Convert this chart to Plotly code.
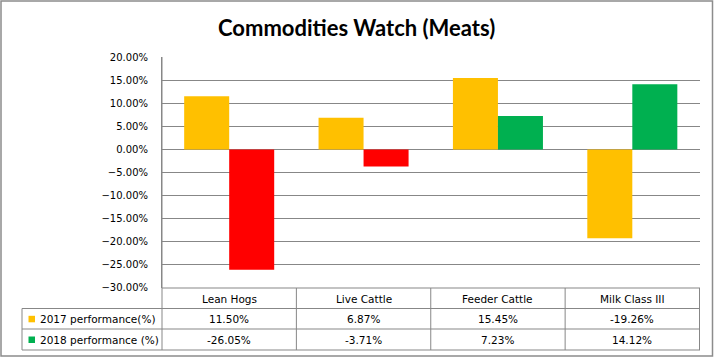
import plotly.graph_objects as go

categories = ["Lean Hogs", "Live Cattle", "Feeder Cattle", "Milk Class III"]
series_names = ["2017 performance(%)", "2018 performance (%)"]
perf_2017 = [11.50, 6.87, 15.45, -19.26]
perf_2018 = [-26.05, -3.71, 7.23, 14.12]

C_2017 = "#FFC000"
C_POS = "#00B050"
C_NEG = "#FF0000"
GRID = "#878787"

W, H = 714, 358
L, R, T, B = 162, 700, 57, 288  # plot area in pixels
PW, PH = R - L, B - T


def py(p):  # pixel y -> paper y
    return (B - p) / PH


def px(p):  # pixel x -> paper x
    return (p - L) / PW


y17 = [v / 100 for v in perf_2017]
y18 = [v / 100 for v in perf_2018]
col18 = [C_POS if v >= 0 else C_NEG for v in perf_2018]

fig = go.Figure()
fig.add_trace(go.Bar(x=categories, y=y17, name=series_names[0],
                     marker=dict(color=C_2017, line=dict(width=0))))
fig.add_trace(go.Bar(x=categories, y=y18, name=series_names[1],
                     marker=dict(color=col18, line=dict(width=0))))

shapes = []
line = dict(color=GRID, width=1)
# outer border
shapes.append(dict(type="rect", xref="paper", yref="paper",
                   x0=px(1), x1=px(712.5), y0=py(1), y1=py(356),
                   line=dict(color="#8C8C8C", width=1.5)))
# left axis extended down through the table
shapes.append(dict(type="line", xref="paper", yref="paper",
                   x0=0, x1=0, y0=py(350), y1=1, line=line))
# table vertical lines between/after categories
n = len(categories)
for i in range(n):
    shapes.append(dict(type="line", xref="x", yref="paper",
                       x0=i + 0.5, x1=i + 0.5, y0=py(350), y1=py(288), line=line))
# table horizontal lines
shapes.append(dict(type="line", xref="paper", yref="paper",
                   x0=0, x1=1, y0=py(288), y1=py(288), line=line))
for yy in (308.5, 329, 350):
    shapes.append(dict(type="line", xref="paper", yref="paper",
                       x0=px(22), x1=1, y0=py(yy), y1=py(yy), line=line))
shapes.append(dict(type="line", xref="paper", yref="paper",
                   x0=px(22), x1=px(22), y0=py(350), y1=py(308.5), line=line))

# legend keys in table
row_centers = [318.8, 339.5]
key_colors = [C_2017, C_POS]
for rc, kc in zip(row_centers, key_colors):
    shapes.append(dict(type="rect", xref="paper", yref="paper",
                       x0=px(28.5), x1=px(35), y0=py(rc + 3.5), y1=py(rc - 3),
                       fillcolor=kc, line=dict(width=0)))

ann = []
TF = dict(family="DejaVu Sans", size=10.5, color="#000000")
for c in categories:
    ann.append(dict(x=c, y=py(298.8), xref="x", yref="paper", text=c,
                    showarrow=False, font=TF, xanchor="center", yanchor="middle"))
for rc, vals, nm in zip(row_centers, (perf_2017, perf_2018), series_names):
    ann.append(dict(x=px(37.5), y=py(rc), xref="paper", yref="paper", text=nm,
                    showarrow=False, font=TF, xanchor="left", yanchor="middle"))
    for c, v in zip(categories, vals):
        ann.append(dict(x=c, y=py(rc), xref="x", yref="paper", text=f"{v:.2f}%",
                        showarrow=False, font=TF, xanchor="center", yanchor="middle"))
# title
ann.append(dict(x=px(356), y=py(28), xref="paper", yref="paper",
                text="<b>Commodities Watch (Meats)</b>", showarrow=False,
                font=dict(family="Lato", size=22, color="#000000"),
                xanchor="center", yanchor="middle"))

fig.update_layout(
    width=W, height=H,
    margin=dict(l=L, r=W - R, t=T, b=H - B, pad=0),
    paper_bgcolor="white", plot_bgcolor="white",
    showlegend=False,
    barmode="group", bargap=0.33, bargroupgap=0,
    shapes=shapes, annotations=ann,
    xaxis=dict(showticklabels=False, showgrid=False, showline=False,
               zeroline=False, ticks="", fixedrange=True),
    yaxis=dict(range=[-0.3001, 0.2001], tick0=0, dtick=0.05, tickformat=".2%",
               showgrid=True, gridcolor=GRID, gridwidth=1,
               zeroline=True, zerolinecolor=GRID, zerolinewidth=1,
               showline=True, linecolor=GRID, linewidth=1,
               ticks="", ticklabelstandoff=11,
               tickfont=dict(family="DejaVu Sans", size=10, color="#000000")),
)

fig.write_html("out.html",
               config={"displayModeBar": False, "staticPlot": True},
               post_script="document.body.style.margin='0';document.body.style.overflow='hidden';")
